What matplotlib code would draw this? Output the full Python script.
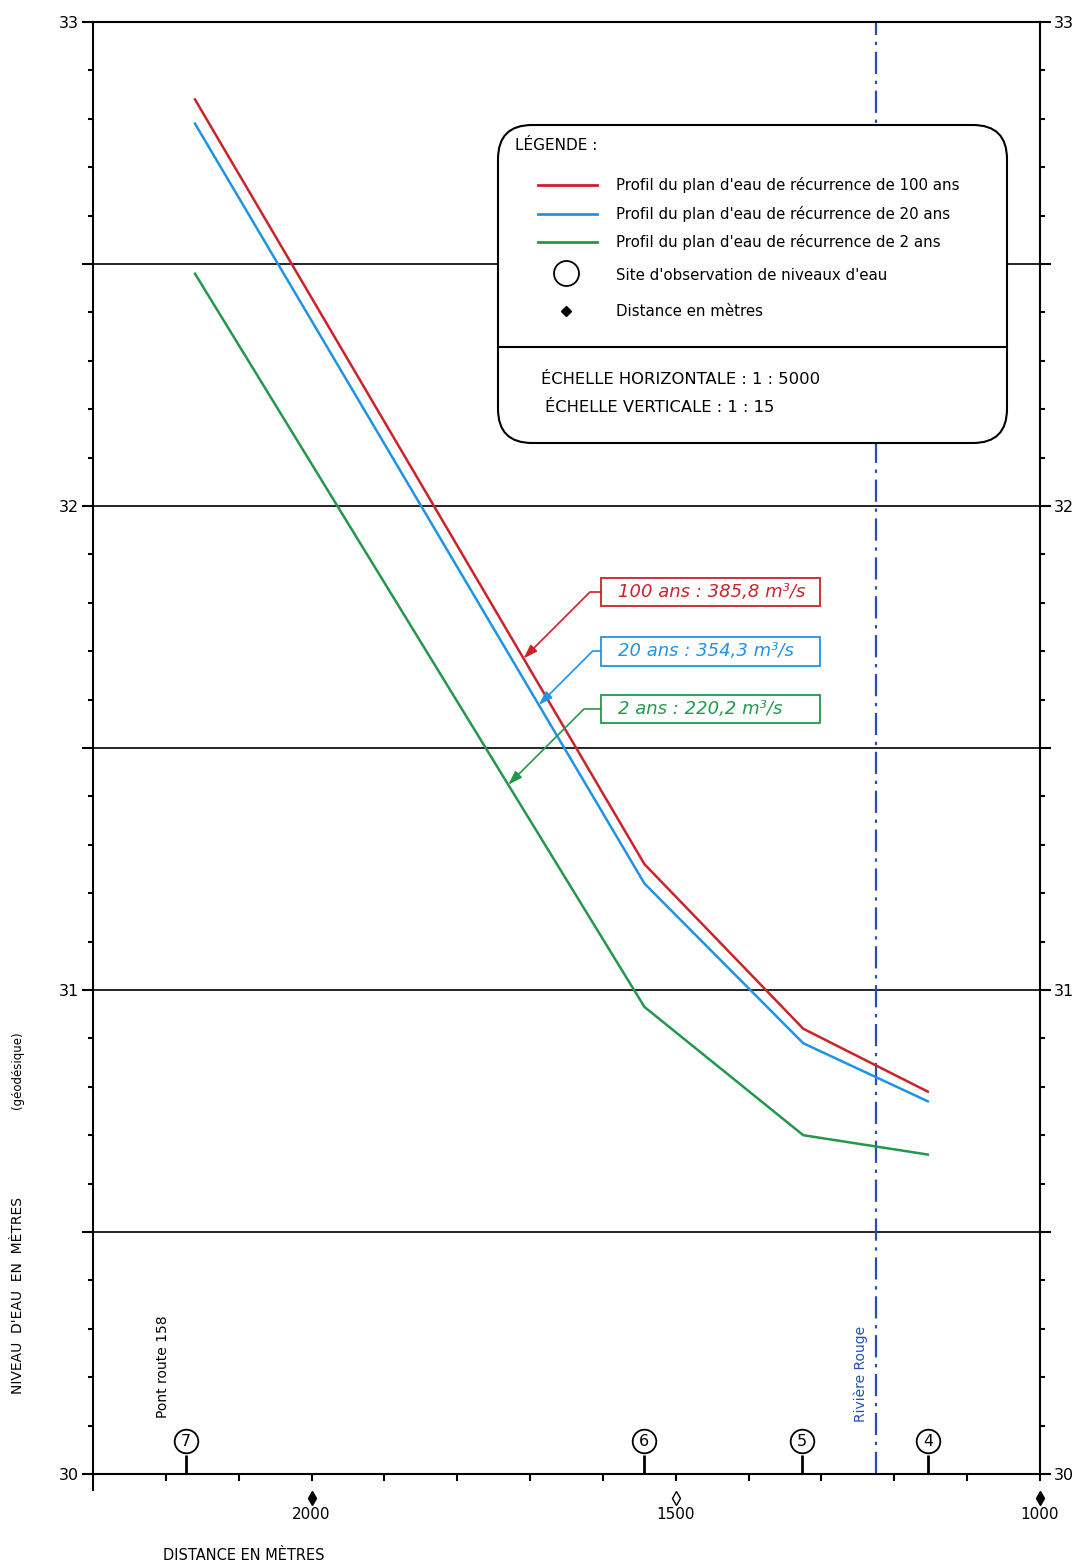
import numpy as np
import matplotlib
matplotlib.use("Agg")
import matplotlib.pyplot as plt
import matplotlib.transforms as mtransforms
from matplotlib.patches import FancyBboxPatch, Rectangle

# ---------------- data ----------------
distance = [2160, 1543, 1325, 1154]            # metres
level_100 = [32.84, 31.26, 30.92, 30.79]       # 100-year profile
level_20 = [32.79, 31.22, 30.89, 30.77]        # 20-year profile
level_2 = [32.48, 30.965, 30.70, 30.66]        # 2-year profile

station_x = [2172, 1544, 1327, 1154]
station_labels = ["7", "6", "5", "4"]

river_x = 1225
dist_marks = [2000, 1500, 1000]
dist_labels = ["2000", "1500", "1000"]
dist_hollow = [False, True, False]

flow_labels = ["100 ans : 385,8 m³/s", "20 ans : 354,3 m³/s", "2 ans : 220,2 m³/s"]
flow_tip_x = [1709, 1688, 1730]

legend_labels = ["Profil du plan d'eau de récurrence de 100 ans",
                 "Profil du plan d'eau de récurrence de 20 ans",
                 "Profil du plan d'eau de récurrence de 2 ans"]

RED, BLUE, GREEN = "#cc2229", "#1f93e6", "#22994a"
RIVER_BLUE = "#2450b4"
colors = [RED, BLUE, GREEN]
series = [level_100, level_20, level_2]

# ---------------- figure ----------------
W, H = 1081, 1566
fig = plt.figure(figsize=(W / 100, H / 100), dpi=100)
L, R, T, B = 93, 1040, 22, 1474
ax = fig.add_axes([L / W, 1 - B / H, (R - L) / W, (B - T) / H])


def fx(px):
    return (px - L) / (R - L)


def fy(py):
    return (B - py) / (B - T)


ax.set_xlim(2300, 1000)
ax.set_ylim(30, 33)

# y ticks
ymaj = np.arange(30, 33.01, 0.5)
ax.set_yticks(ymaj)
ax.set_yticklabels([f"{v:.0f}" if abs(v - round(v)) < 1e-6 else "" for v in ymaj])
ax.set_yticks(np.arange(30, 33.01, 0.1), minor=True)
ax.tick_params(axis="y", which="major", direction="out", length=8, width=1.5,
               labelsize=11.5, left=True, right=True, labelleft=True, labelright=True, pad=2)
ax.tick_params(axis="y", which="minor", direction="out", length=3.5, width=1.5,
               left=True, right=True)
ax.yaxis.grid(True, which="major", color="black", lw=1.2)

# x ticks
ax.set_xticks(np.arange(1000, 2201, 100))
ax.tick_params(axis="x", which="major", direction="out", length=5, width=1.5,
               labelbottom=False)
for s in ax.spines.values():
    s.set_linewidth(1.5)

# left spine extension below the axis
ax.plot([0, 0], [0, -0.011], transform=ax.transAxes, color="k", lw=1.5, clip_on=False)

# river dash-dot line
ax.axvline(river_x, color=RIVER_BLUE, lw=1.6, ls=(0, (10, 3, 1.5, 3)), zorder=1.8)

# profiles
for ys, c in zip(series, colors):
    ax.plot(distance, ys, color=c, lw=1.8, zorder=4)

trans = mtransforms.blended_transform_factory(ax.transData, ax.transAxes)

# stations
ax.vlines(station_x, 0, 0.013, transform=trans, color="k", lw=2, zorder=4)
ax.plot(station_x, [0.0227] * len(station_x), transform=trans, ls="none", marker="o",
        ms=17, mfc="white", mec="k", mew=1.3, zorder=5)
for sx, lab in zip(station_x, station_labels):
    ax.text(sx, 0.0227, lab, transform=trans, ha="center", va="center", fontsize=11.5, zorder=6)

# distance markers
for dx, lab, hol in zip(dist_marks, dist_labels, dist_hollow):
    ax.plot([dx], [-0.0165], transform=trans, marker="d", ms=7,
            mfc="white" if hol else "black", mec="black", mew=1.0, clip_on=False)
    ax.text(dx, -0.028, lab, transform=trans, ha="center", va="center", fontsize=11)

# side texts
ax.text(2204, 0.0737, "Pont route 158", transform=trans, rotation=90,
        ha="center", va="center", fontsize=10)
ax.text(1246, 0.0689, "Rivière Rouge", transform=trans, rotation=90,
        ha="center", va="center", fontsize=10, color=RIVER_BLUE)

# flow annotation boxes
box_centers = [592, 651, 709]
for lab, c, yc, tx, ys in zip(flow_labels, colors, box_centers, flow_tip_x, series):
    rect = Rectangle((fx(601), fy(yc + 14.5)), fx(820) - fx(601), 29 / (B - T),
                     transform=ax.transAxes, fc="white", ec=c, lw=1.3, zorder=5)
    ax.add_patch(rect)
    ax.text(fx(618), fy(yc), lab, transform=ax.transAxes, ha="left", va="center",
            fontsize=13, fontstyle="italic", color=c, zorder=6)
    ty = np.interp(tx, distance[::-1], ys[::-1])
    ax.annotate("", xy=(tx, ty), xycoords="data",
                xytext=(fx(601), fy(yc)), textcoords="axes fraction",
                arrowprops=dict(arrowstyle="-|>,head_length=0.6,head_width=0.2",
                                mutation_scale=14, color=c, lw=1.2,
                                shrinkA=0, shrinkB=0,
                                connectionstyle="angle,angleA=0,angleB=45,rad=0"),
                zorder=5)

# legend box
box = FancyBboxPatch((fx(498), fy(443)), fx(1007) - fx(498), fy(125) - fy(443),
                     boxstyle="round,pad=0,rounding_size=0.036",
                     mutation_aspect=(R - L) / (B - T),
                     transform=ax.transAxes, fc="white", ec="black", lw=1.5, zorder=5)
ax.add_patch(box)
ax.plot([fx(498), fx(1007)], [fy(347)] * 2, transform=ax.transAxes, color="k", lw=1.5, zorder=6)
ax.text(fx(515), fy(145), "LÉGENDE :", transform=ax.transAxes, ha="left", va="center",
        fontsize=11, zorder=7)
for lab, c, yy in zip(legend_labels, colors, [185, 214, 242]):
    ax.plot([fx(538), fx(597)], [fy(yy)] * 2, transform=ax.transAxes, color=c, lw=2, zorder=7)
    ax.text(fx(616), fy(yy), lab, transform=ax.transAxes, ha="left", va="center",
            fontsize=10.8, zorder=7)
ax.plot([fx(566)], [fy(273)], transform=ax.transAxes, marker="o", ms=18, mfc="white",
        mec="black", mew=1.3, zorder=7)
ax.text(fx(616), fy(276), "Site d'observation de niveaux d'eau", transform=ax.transAxes,
        ha="left", va="center", fontsize=10.8, zorder=7)
ax.plot([fx(566)], [fy(311)], transform=ax.transAxes, marker="D", ms=5.5, color="black", zorder=7)
ax.text(fx(616), fy(311), "Distance en mètres", transform=ax.transAxes,
        ha="left", va="center", fontsize=10.8, zorder=7)
ax.text(fx(541), fy(379), "ÉCHELLE HORIZONTALE : 1 : 5000", transform=ax.transAxes,
        ha="left", va="center", fontsize=11.8, zorder=7)
ax.text(fx(545), fy(408), "ÉCHELLE VERTICALE : 1 : 15", transform=ax.transAxes,
        ha="left", va="center", fontsize=11.8, zorder=7)

# axis titles
fig.text(163 / W, 1 - 1555 / H, "DISTANCE EN MÈTRES", ha="left", va="center", fontsize=10.5)
fig.text(18 / W, 1 - 1295 / H, "NIVEAU  D'EAU  EN  MÈTRES", rotation=90,
         ha="center", va="center", fontsize=10)
fig.text(18 / W, 1 - 1070 / H, "(géodésique)", rotation=90,
         ha="center", va="center", fontsize=8.5)

fig.savefig("out.png", dpi=100)
